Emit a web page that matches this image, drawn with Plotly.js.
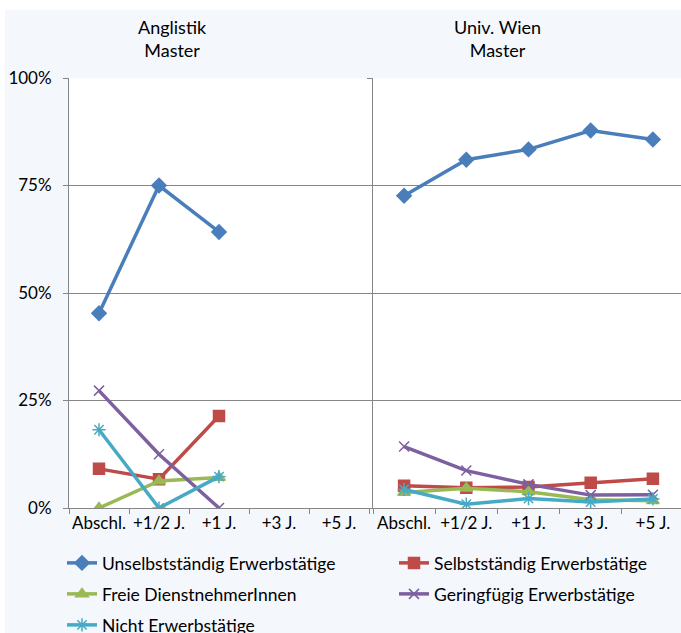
<!DOCTYPE html>
<html><head><meta charset="utf-8">
<script src="https://cdn.plot.ly/plotly-3.0.1.min.js"></script>
<style>
html,body{margin:0;padding:0;background:#fff;overflow:hidden;width:681px;height:633px;}
#bg{position:absolute;left:5px;top:10px;width:700px;height:640px;background:#f4f7fc;}
#chart{position:absolute;left:0;top:0;width:690px;height:633px;}
</style></head><body>
<div id="bg"></div><div id="chart"></div>
<script>
const categories = ['Abschl.', '+1/2 J.', '+1 J.', '+3 J.', '+5 J.'];
const panelTitles = ['Anglistik<br>Master', 'Univ. Wien<br>Master'];
const seriesNames = ['Unselbstständig Erwerbstätige', 'Selbstständig Erwerbstätige', 'Freie DienstnehmerInnen', 'Geringfügig Erwerbstätige', 'Nicht Erwerbstätige'];
const yTickVals = [0, 0.25, 0.5, 0.75, 1];
const yTickText = ['0%', '25%', '50%', '75%', '100%'];

// Anglistik Master
const anglUnselbst = [0.453, 0.750, 0.642, null, null];
const anglSelbst   = [0.091, 0.067, 0.214, null, null];
const anglFreie    = [0.000, 0.063, 0.071, null, null];
const anglGering   = [0.273, 0.125, 0.000, null, null];
const anglNicht    = [0.182, 0.000, 0.073, null, null];

// Univ. Wien Master
const wienUnselbst = [0.726, 0.810, 0.834, 0.878, 0.857];
const wienSelbst   = [0.052, 0.047, 0.049, 0.059, 0.068];
const wienFreie    = [0.036, 0.046, 0.038, 0.019, 0.017];
const wienGering   = [0.143, 0.087, 0.055, 0.030, 0.031];
const wienNicht    = [0.043, 0.009, 0.022, 0.014, 0.021];

const colors = ['#4A7EBB', '#BE4B48', '#98B954', '#7D60A0', '#46AAC5'];
const symbols = ['diamond', 'square', 'triangle-up', 'x-thin-open', 'asterisk-open'];
const sizes = [11, 11, 11, 10, 11];
const legendIds = ['legend', 'legend2', 'legend3', 'legend4', 'legend5'];

const angl = [anglUnselbst, anglSelbst, anglFreie, anglGering, anglNicht];
const wien = [wienUnselbst, wienSelbst, wienFreie, wienGering, wienNicht];

const traces = [];
[angl, wien].forEach((panel, p) => {
  panel.forEach((vals, i) => {
    traces.push({
      type: 'scatter', mode: 'lines+markers',
      x: categories, y: vals,
      xaxis: p === 0 ? 'x' : 'x2', yaxis: p === 0 ? 'y' : 'y2',
      name: seriesNames[i], legendgroup: seriesNames[i],
      legend: legendIds[i],
      showlegend: p === 0,
      line: {color: colors[i], width: 3.5},
      marker: {symbol: symbols[i], size: sizes[i], color: colors[i], line: {color: colors[i], width: 1.5}},
      connectgaps: false
    });
  });
});

const FONT = 'Lato, sans-serif';
const W = 690, H = 633, ml = 69, mr = 6, mt = 78, mb = 125;
const pw = W - ml - mr;
const xa = {
  type: 'category', categoryarray: categories, categoryorder: 'array',
  range: [-0.5, 4.5], showgrid: false, zeroline: false,
  showline: true, linecolor: '#868686', linewidth: 1,
  ticks: 'outside', tickson: 'boundaries', ticklen: 5, tickcolor: '#868686',
  tickfont: {family: FONT, size: 17, color: '#000'}, tickangle: 0,
  fixedrange: true
};
const ya = {
  range: [0, 1], tickvals: yTickVals, ticktext: yTickText,
  showgrid: true, gridcolor: '#868686', gridwidth: 1, zeroline: false,
  showline: true, linecolor: '#868686', linewidth: 1,
  ticks: 'outside', ticklen: 5, tickcolor: '#868686',
  tickfont: {family: FONT, size: 17, color: '#000'},
  ticklabelstandoff: 8,
  fixedrange: true
};
const legBase = {
  orientation: 'h', xref: 'container', yref: 'container',
  xanchor: 'left', yanchor: 'middle', bgcolor: 'rgba(0,0,0,0)',
  font: {family: FONT, size: 17.5, color: '#000'},
  itemclick: false, itemdoubleclick: false
};
const legendPos = [[62, 563], [394, 563], [62, 594], [394, 594], [62, 625]];
const layout = {
  width: W, height: H,
  margin: {l: ml, r: mr, t: mt, b: mb, pad: 0},
  paper_bgcolor: 'rgba(0,0,0,0)', plot_bgcolor: '#ffffff',
  showlegend: true,
  xaxis: Object.assign({}, xa, {domain: [0, 300 / pw], anchor: 'y'}),
  xaxis2: Object.assign({}, xa, {domain: [(373 - ml) / pw, 1], anchor: 'y2'}),
  yaxis: Object.assign({}, ya, {anchor: 'x'}),
  yaxis2: Object.assign({}, ya, {anchor: 'x2', showticklabels: false}),
  shapes: [{type: 'rect', xref: 'paper', yref: 'paper', x0: 0, x1: 1, y0: 0, y1: 1,
            fillcolor: '#ffffff', line: {width: 0}, layer: 'below'}],
  annotations: [
    {text: panelTitles[0], xref: 'paper', yref: 'paper', x: (172 - ml) / pw, y: (508 - 38) / 430,
     xanchor: 'center', yanchor: 'middle', showarrow: false,
     font: {family: FONT, size: 18, color: '#000'}},
    {text: panelTitles[1], xref: 'paper', yref: 'paper', x: (497 - ml) / pw, y: (508 - 38) / 430,
     xanchor: 'center', yanchor: 'middle', showarrow: false,
     font: {family: FONT, size: 18, color: '#000'}}
  ]
};
legendIds.forEach((id, i) => {
  layout[id] = Object.assign({}, legBase, {x: legendPos[i][0] / W, y: 1 - legendPos[i][1] / H});
});
Plotly.newPlot('chart', traces, layout, {displayModeBar: false, staticPlot: true});
</script>
</body></html>
